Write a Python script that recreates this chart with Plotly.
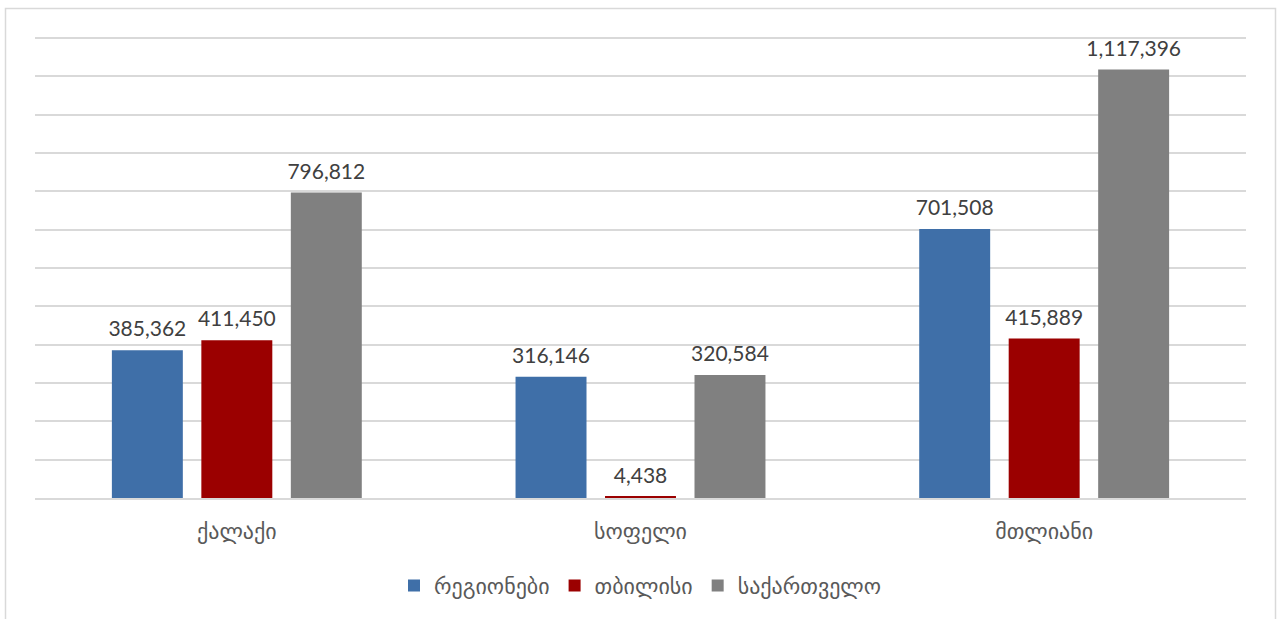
import plotly.graph_objects as go

categories = ["ქალაქი", "სოფელი", "მთლიანი"]
series_names = ["რეგიონები", "თბილისი", "საქართველო"]
regions = [385362, 316146, 701508]
tbilisi = [411450, 4438, 415889]
georgia = [796812, 320584, 1117396]
colors = ["#3f6fa8", "#9b0000", "#808080"]

W, H = 1281, 619
ml, mr, mt, mb = 35, 35, 34, 119
pw, ph = W - ml - mr, H - mt - mb

fig = go.Figure()
for i, (name, vals, col) in enumerate(zip(series_names, [regions, tbilisi, georgia], colors)):
    fig.add_trace(go.Bar(
        name=name, x=categories, y=vals, marker_color=col, marker_line_width=0,
        offsetgroup=str(i), alignmentgroup="a", hoverinfo="x+y",
    ))
for i, vals in enumerate([regions, tbilisi, georgia]):
    fig.add_trace(go.Scatter(
        x=categories, y=vals, mode="markers+text", text=[f"{v:,}" for v in vals],
        textposition="top center", offsetgroup=str(i), alignmentgroup="a",
        marker=dict(size=12, opacity=0), showlegend=False, hoverinfo="skip",
        textfont=dict(family="Lato, Open Sans, sans-serif", size=21, color="#404040"),
        cliponaxis=False,
    ))

def px_x(p):
    return (p - ml) / pw

def px_y(p):
    return (H - mb - p) / ph

fig.add_shape(type="rect", xref="paper", yref="paper",
              x0=px_x(5.5), x1=px_x(1275.5), y0=px_y(640), y1=px_y(8.5),
              line=dict(color="#d9d9d9", width=1.5), fillcolor="rgba(0,0,0,0)", layer="below")

fig.update_layout(
    width=W, height=H,
    margin=dict(l=ml, r=mr, t=mt, b=mb),
    paper_bgcolor="white", plot_bgcolor="white",
    barmode="group", bargap=0.335, bargroupgap=0.207,
    scattermode="group",
    showlegend=True,
    legend=dict(orientation="h", x=0.5, xanchor="center", y=px_y(588), yanchor="middle",
                font=dict(family="DejaVu Sans, sans-serif", size=22, color="#595959"),
                itemsizing="constant", itemwidth=30, traceorder="normal"),
    xaxis=dict(showgrid=False, showline=True, linecolor="#d9d9d9", linewidth=1.5,
               tickfont=dict(family="DejaVu Sans, sans-serif", size=22, color="#595959"),
               ticks="", ticklabelstandoff=13),
    yaxis=dict(range=[0, 1210000], tick0=0, dtick=100000, showgrid=True, gridcolor="#d9d9d9",
               gridwidth=1.5, showticklabels=False, zeroline=False, ticks=""),
)

fig.write_html("out.html", config={"displayModeBar": False},
               post_script="document.body.style.margin='0';")
